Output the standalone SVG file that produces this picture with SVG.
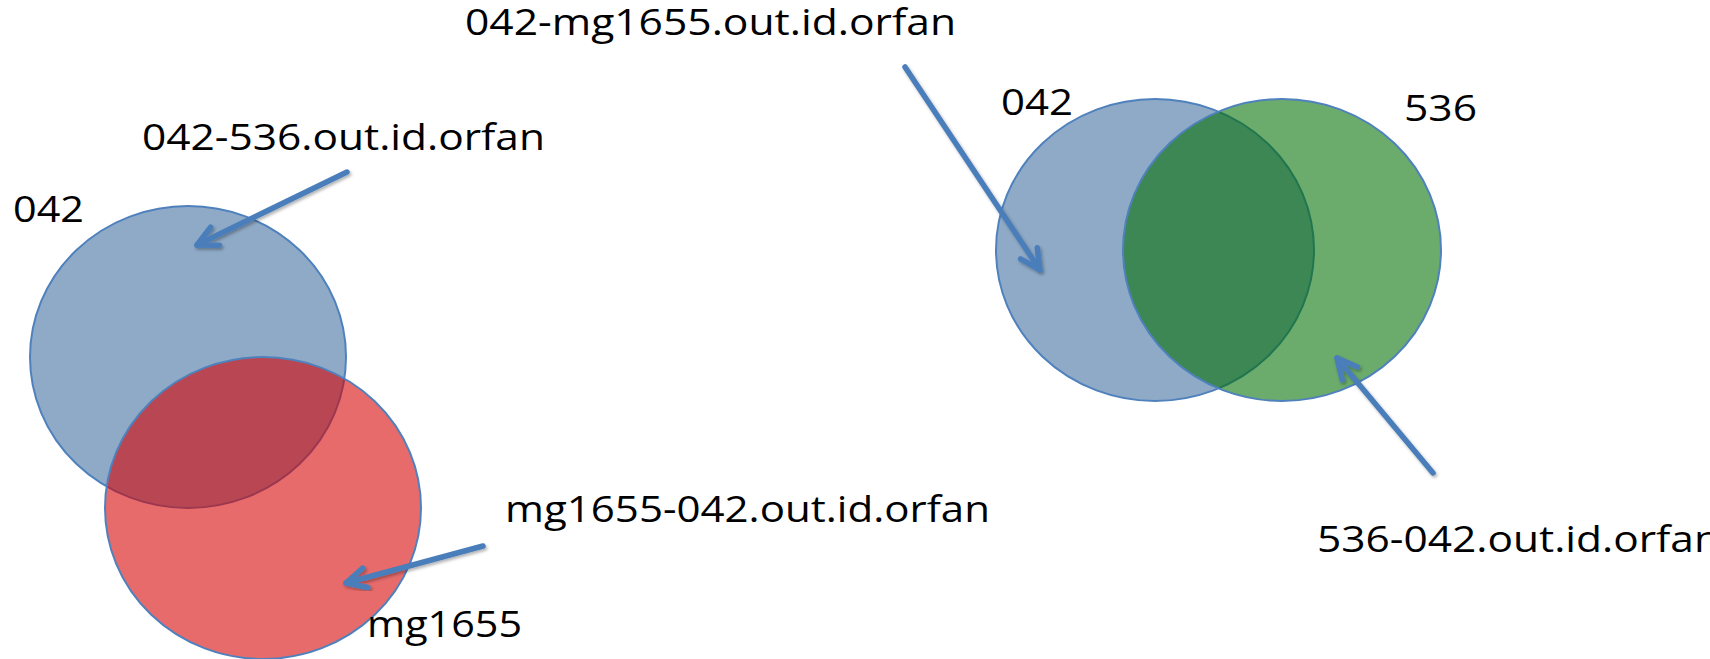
<svg xmlns="http://www.w3.org/2000/svg" width="1710" height="659" viewBox="0 0 1710 659">
  <style>
    .lbl { font-family: "Open Sans", "Noto Sans", "Liberation Sans", sans-serif; font-size: 36px; fill: #000000; }
    .set { stroke: #4F81BD; stroke-width: 2; }
    .blue { fill: #8FAAC7; }
    .red { fill: rgb(214,0,0); fill-opacity: 0.58; }
    .green { fill: rgb(0,110,0); fill-opacity: 0.58; }
    .arrow { stroke: #4A7EBB; stroke-width: 5.5; stroke-linecap: round; fill: none; marker-end: url(#vhead); filter: url(#shadow); }
  </style>
  <defs>
    <marker id="vhead" markerUnits="userSpaceOnUse" markerWidth="40" markerHeight="40" viewBox="-30 -20 40 40" refX="0" refY="0" orient="auto" overflow="visible">
      <path d="M-20,-10 L0,0 L-20,10" fill="none" stroke="#4A7EBB" stroke-width="5.5" stroke-linecap="round" stroke-linejoin="round"/>
    </marker>
    <filter id="shadow" x="-20%" y="-20%" width="140%" height="140%">
      <feDropShadow dx="1.5" dy="2" stdDeviation="1.5" flood-color="#000000" flood-opacity="0.3"/>
    </filter>
  </defs>

  <g id="venn-left">
    <g id="set-042-left">
      <ellipse class="set blue" cx="188" cy="357" rx="158" ry="151"/>
    </g>
    <g id="set-mg1655">
      <ellipse class="set red" cx="263" cy="508" rx="158" ry="151"/>
    </g>
  </g>

  <g id="venn-right">
    <g id="set-042-right">
      <ellipse class="set blue" cx="1155" cy="250" rx="159" ry="151"/>
    </g>
    <g id="set-536">
      <ellipse class="set green" cx="1282" cy="250" rx="159" ry="151"/>
    </g>
  </g>

  <g id="connectors">
    <line class="arrow" x1="347" y1="172" x2="197" y2="245"/>
    <line class="arrow" x1="905" y1="67" x2="1040" y2="270"/>
    <line class="arrow" x1="483" y1="546" x2="346" y2="583"/>
    <line class="arrow" x1="1433" y1="473" x2="1337" y2="358"/>
  </g>

  <g id="labels">
    <text class="lbl" x="465" y="35" textLength="491" lengthAdjust="spacingAndGlyphs">042-mg1655.out.id.orfan</text>
    <text class="lbl" x="142" y="150" textLength="403" lengthAdjust="spacingAndGlyphs">042-536.out.id.orfan</text>
    <text class="lbl" x="13" y="222" textLength="71" lengthAdjust="spacingAndGlyphs">042</text>
    <text class="lbl" x="505" y="522" textLength="485" lengthAdjust="spacingAndGlyphs">mg1655-042.out.id.orfan</text>
    <text class="lbl" x="367" y="637" textLength="155" lengthAdjust="spacingAndGlyphs">mg1655</text>
    <text class="lbl" x="1001" y="115" textLength="72" lengthAdjust="spacingAndGlyphs">042</text>
    <text class="lbl" x="1404" y="121" textLength="73" lengthAdjust="spacingAndGlyphs">536</text>
    <text class="lbl" x="1317" y="552" textLength="403" lengthAdjust="spacingAndGlyphs">536-042.out.id.orfan</text>
  </g>
</svg>
